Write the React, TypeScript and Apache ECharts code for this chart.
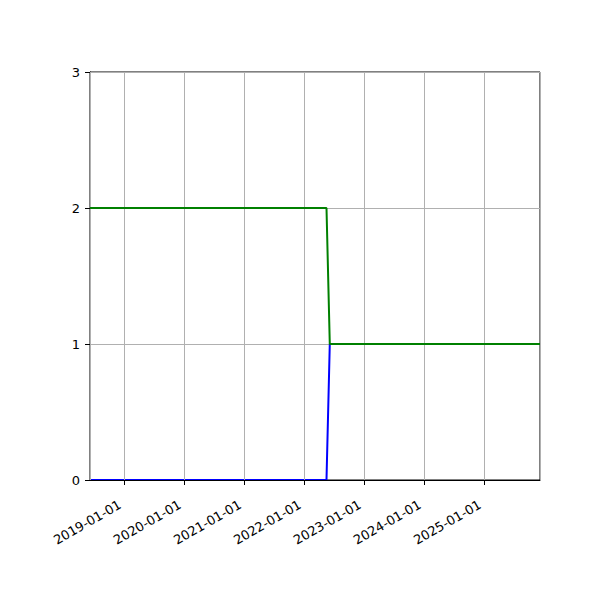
import { useRef, useEffect } from "react";
import * as echarts from "echarts";

const startDate = "2018-06-06";
const stepStart = "2022-05-16";
const stepEnd = "2022-06-05";
const endDate = "2025-12-06";

const dates = [startDate, stepStart, stepEnd, endDate];
const blueValues = [0, 0, 1, 1];
const greenValues = [2, 2, 1, 1];
const yTicks = [0, 1, 2, 3];

const YEAR_MS = 365.25 * 24 * 3600 * 1000;

export default function App() {
  const chartRef = useRef<HTMLDivElement>(null);

  useEffect(() => {
    if (!chartRef.current) return;
    const chart = echarts.init(chartRef.current, null, { renderer: "svg" });

    const font = "DejaVu Sans";
    const toPoints = (vals: number[]) =>
      dates.map((d, i) => [new Date(d + "T00:00:00Z").getTime(), vals[i]]);

    chart.setOption({
      animation: false,
      backgroundColor: "#ffffff",
      grid: {
        left: 90,
        right: 60,
        top: 72,
        bottom: 120,
        show: true,
        borderColor: "#000000",
        borderWidth: 1,
        backgroundColor: "transparent",
      },
      xAxis: {
        type: "time",
        z: 2.5,
        min: new Date(startDate + "T00:00:00Z").getTime(),
        max: new Date(endDate + "T00:00:00Z").getTime(),
        minInterval: YEAR_MS,
        maxInterval: YEAR_MS,
        axisLine: { show: true, lineStyle: { color: "#000000", width: 1 } },
        axisTick: { show: true, inside: false, length: 5, lineStyle: { color: "#000000" } },
        axisLabel: {
          formatter: "{yyyy}-{MM}-{dd}",
          rotate: 30,
          margin: 21,
          padding: [0, 5, 0, 0],
          color: "#000000",
          fontSize: 13,
          fontFamily: font,
          hideOverlap: false,
        },
        splitLine: { show: true, lineStyle: { color: "#b0b0b0", width: 1 } },
      },
      yAxis: {
        type: "value",
        min: yTicks[0],
        max: yTicks[yTicks.length - 1],
        interval: 1,
        axisLine: { show: true, lineStyle: { color: "#000000", width: 1 } },
        axisTick: { show: true, inside: false, length: 5, lineStyle: { color: "#000000" } },
        axisLabel: {
          margin: 10,
          color: "#000000",
          fontSize: 13,
          fontFamily: font,
        },
        splitLine: { show: true, lineStyle: { color: "#b0b0b0", width: 1 } },
      },
      series: [
        {
          type: "line",
          data: toPoints(blueValues),
          showSymbol: false,
          lineStyle: { color: "#0000ff", width: 2 },
          z: 2,
        },
        {
          type: "line",
          data: toPoints(greenValues),
          showSymbol: false,
          lineStyle: { color: "#008000", width: 2 },
          z: 3,
        },
      ],
    });

    return () => {
      chart.dispose();
    };
  }, []);

  return <div ref={chartRef} style={{ width: "600px", height: "600px", margin: "-8px" }} />;
}
